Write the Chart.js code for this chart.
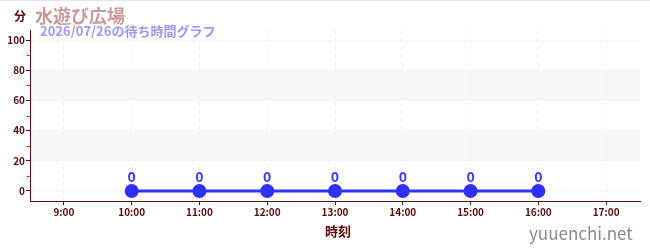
<!DOCTYPE html>
<html>
<head>
<meta charset="utf-8">
<script src="https://cdn.jsdelivr.net/npm/chart.js@4"></script>
<style>
  body { margin: 0; background: #fff; }
  #wrap { position: relative; width: 650px; height: 250px; border-top: 1px solid #e4e4f6; box-sizing: border-box; }
  canvas { position: absolute; left: 0; top: 0; }
  .txt { position: absolute; font-family: "Noto Sans CJK JP", sans-serif; font-weight: bold; white-space: nowrap; line-height: 1; }
</style>
</head>
<body>
<div id="wrap">
  <canvas id="chart" width="650" height="249"></canvas>
  <div class="txt" style="left:14px; top:9px; font-size:12px; color:#5a0a0a;">分</div>
  <div class="txt" style="left:35px; top:5px; font-size:18px; color:#c89a9a;">水遊び広場</div>
  <div class="txt" style="left:40px; top:23px; font-size:13px; color:#9a9af0;">2026/07/26の待ち時間グラフ</div>
  <div class="txt" style="left:325px; top:223px; font-size:13px; color:#5a0a0a;">時刻</div>
  <div class="txt" style="left:529px; top:223px; font-size:17px; color:#8a8a8a; font-weight:normal;">yuuenchi.net</div>
</div>
<script>
// 時刻 (heures) et temps d'attente
const hours = [10, 11, 12, 13, 14, 15, 16];
const waits = [0, 0, 0, 0, 0, 0, 0];
const xTicks = [9, 10, 11, 12, 13, 14, 15, 16, 17];
const yTicks = [0, 20, 40, 60, 80, 100];
const yMinorTicks = [10, 30, 50, 70, 90];
const bands = [[20, 40], [60, 80]];

const maroon = '#5a0a0a';

// bandes grises en fond
const bandPlugin = {
    id: 'bands',
    beforeDraw(chart) {
        const {ctx, chartArea, scales: {y}} = chart;
        ctx.save();
        ctx.fillStyle = '#f7f7f7';
        bands.forEach(b => {
            const top = y.getPixelForValue(b[1]);
            const bot = y.getPixelForValue(b[0]);
            ctx.fillRect(chartArea.left, top, chartArea.right - chartArea.left, bot - top);
        });
        ctx.restore();
    },
    afterDraw(chart) {
        const {ctx, chartArea, scales: {y}} = chart;
        ctx.save();
        ctx.strokeStyle = '#dd2222';
        ctx.lineWidth = 1;
        yMinorTicks.forEach(v => {
            const py = Math.round(y.getPixelForValue(v)) + 0.5;
            ctx.beginPath();
            ctx.moveTo(chartArea.left - 3, py);
            ctx.lineTo(chartArea.left, py);
            ctx.stroke();
        });
        ctx.restore();
    }
};

// étiquettes de valeurs au-dessus des points
const labelPlugin = {
    id: 'valueLabels',
    afterDatasetsDraw(chart) {
        const {ctx} = chart;
        const meta = chart.getDatasetMeta(0);
        ctx.save();
        ctx.fillStyle = '#3a3aff';
        ctx.font = 'bold 14px "Noto Sans CJK JP", sans-serif';
        ctx.textAlign = 'center';
        ctx.textBaseline = 'middle';
        meta.data.forEach((pt, i) => {
            ctx.fillText(String(waits[i]), pt.x, pt.y - 14);
        });
        ctx.restore();
    }
};

const ctx = document.getElementById('chart').getContext('2d');
const chart = new Chart(ctx, {
    type: 'line',
    data: {
        datasets: [{
            data: hours.map((h, i) => ({x: h, y: waits[i]})),
            borderColor: '#3030ff',
            backgroundColor: '#3030ff',
            borderWidth: 3,
            pointRadius: 5.5,
            pointHoverRadius: 5.5,
            tension: 0
        }]
    },
    options: {
        responsive: false,
        animation: false,
        events: [],
        layout: { padding: { left: 0, right: 10, top: 29, bottom: 0 } },
        plugins: { legend: { display: false }, tooltip: { enabled: false } },
        scales: {
            x: {
                type: 'linear',
                min: 8.5,
                max: 17.5,
                afterBuildTicks: s => { s.ticks = xTicks.map(v => ({value: v})); },
                afterFit: s => { s.height = 49; },
                ticks: {
                    color: maroon,
                    font: { family: '"Noto Sans CJK JP", sans-serif', size: 10, weight: 'bold' },
                    padding: 1,
                    maxRotation: 0,
                    callback: v => v + ':00'
                },
                grid: { color: '#f0f0f0', tickColor: maroon, tickLength: 4, tickWidth: 1 },
                border: { color: maroon, width: 1, dash: [4, 4] }
            },
            y: {
                min: -6.67,
                max: 106.67,
                afterBuildTicks: s => { s.ticks = yTicks.map(v => ({value: v})); },
                afterFit: s => { s.width = 30; },
                ticks: {
                    color: maroon,
                    font: { family: '"Noto Sans CJK JP", sans-serif', size: 10, weight: 'bold' },
                    padding: 1
                },
                grid: { color: '#f0f0f0', tickColor: maroon, tickLength: 4, tickWidth: 1 },
                border: { color: maroon, width: 1, dash: [4, 4] }
            }
        }
    },
    plugins: [bandPlugin, labelPlugin]
});
</script>
</body>
</html>
